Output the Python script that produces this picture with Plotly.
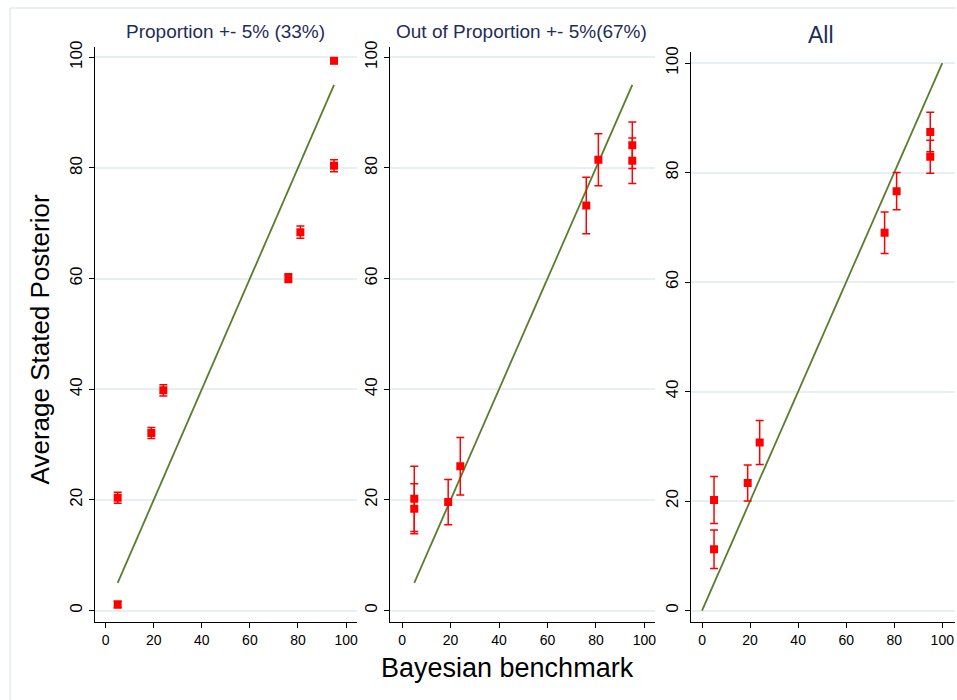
"""
Stated posteriors vs Bayesian benchmark
Three panels with mean +- CI and a 45 degree reference line
"""

import plotly.graph_objects as go

# Bayesian benchmark (x) shared by all panels
bench = [5, 5, 19, 24, 76, 81, 95, 95]

# Proportion +- 5% (33%)
prop_mean = [20.4, 1.1, 32.1, 39.8, 60.1, 68.4, 99.4, 80.4]
prop_err = [1.0, 0.6, 1.0, 1.0, 0.8, 1.1, 0.5, 1.1]

# Out of Proportion +- 5% (67%)
out_mean = [20.2, 18.4, 19.6, 26.1, 73.2, 81.5, 84.1, 81.3]
out_err = [5.9, 4.5, 4.1, 5.2, 5.1, 4.7, 4.2, 4.1]

# All
all_mean = [20.2, 11.2, 23.3, 30.7, 69.0, 76.6, 87.4, 82.9]
all_err = [4.3, 3.5, 3.3, 4.0, 3.8, 3.4, 3.6, 3.0]

# 45 degree reference lines
line_short = [5, 95]
line_full = [0, 100]

titles = ["Proportion +- 5% (33%)", "Out of Proportion +- 5%(67%)", "All"]
tick_vals = [0, 20, 40, 60, 80, 100]

W, H = 957, 700
RED = "#ff0000"
GREEN = "#5b7b2e"
NAVY = "#1f2d5a"
GRID = "#e8eff2"
FONT = "Liberation Sans, Arial, sans-serif"


def px_x(p):
    return p / W


def px_y(p):
    # screenshot comes out ~8px lower / slightly squeezed at the top; compensate
    p = (p - 8) * H / (H - 8)
    return (H - p) / H


panels = [
    dict(mean=prop_mean, err=prop_err, line=line_short,
         xdom=(94.7, 357), ydom=(622, 48.3), xr=[-4.6, 104.4], yr=[-2.05, 101.8]),
    dict(mean=out_mean, err=out_err, line=line_short,
         xdom=(390.7, 656), ydom=(622, 48.3), xr=[-4.9, 104.5], yr=[-2.05, 101.8]),
    dict(mean=all_mean, err=all_err, line=line_full,
         xdom=(691.7, 956), ydom=(622, 52.7), xr=[-4.6, 105.3], yr=[-2.07, 102.07]),
]

fig = go.Figure()
layout = {}

for i, p in enumerate(panels, start=1):
    xa = "x" if i == 1 else f"x{i}"
    ya = "y" if i == 1 else f"y{i}"

    fig.add_trace(go.Scatter(
        x=p["line"], y=p["line"], mode="lines",
        line=dict(color=GREEN, width=1.8),
        xaxis=xa, yaxis=ya, showlegend=False, hoverinfo="skip",
    ))
    fig.add_trace(go.Scatter(
        x=bench, y=p["mean"], mode="markers",
        marker=dict(symbol="square", color=RED, size=8),
        error_y=dict(type="data", array=p["err"], visible=True,
                     color=RED, thickness=1.5, width=4),
        xaxis=xa, yaxis=ya, showlegend=False,
    ))

    key = "" if i == 1 else str(i)
    layout[f"xaxis{key}"] = dict(
        domain=[px_x(p["xdom"][0]), px_x(p["xdom"][1])],
        range=p["xr"], anchor=ya,
        tickvals=tick_vals, ticks="outside", ticklen=5, tickcolor="black",
        showline=True, linecolor="black", linewidth=1,
        showgrid=False, zeroline=False,
        tickfont=dict(family=FONT, size=14, color="black"),
    )
    layout[f"yaxis{key}"] = dict(
        domain=[px_y(p["ydom"][0]), px_y(p["ydom"][1])],
        range=p["yr"], anchor=xa,
        tickvals=tick_vals, ticks="outside", ticklen=5, tickcolor="black",
        tickangle=-90,
        showline=True, linecolor="black", linewidth=1,
        showgrid=True, gridcolor=GRID, gridwidth=1.5, zeroline=False,
        tickfont=dict(family=FONT, size=17, color="black"),
    )

fig.update_layout(**layout)

annotations = [
    dict(text=titles[0], x=px_x(226), y=px_y(32), font=dict(size=19, color=NAVY)),
    dict(text=titles[1], x=px_x(522), y=px_y(32), font=dict(size=19, color=NAVY)),
    dict(text=titles[2], x=px_x(822), y=px_y(36), font=dict(size=23, color=NAVY)),
    dict(text="Bayesian benchmark", x=px_x(508), y=px_y(668),
         font=dict(size=27, color="black")),
    dict(text="Average Stated Posterior", x=px_x(41), y=px_y(340), textangle=-90,
         font=dict(size=26, color="black")),
]
for a in annotations:
    a.update(xref="paper", yref="paper", showarrow=False,
             xanchor="center", yanchor="middle")
    a["font"]["family"] = FONT

# light outer frame, as in the exported graph window
shapes = [
    dict(type="line", xref="paper", yref="paper",
         x0=px_x(10), x1=px_x(10), y0=px_y(9), y1=0,
         line=dict(color="#e3eaee", width=1.5)),
    dict(type="line", xref="paper", yref="paper",
         x0=px_x(10), x1=1, y0=px_y(9), y1=px_y(9),
         line=dict(color="#e3eaee", width=1.5)),
]

fig.update_layout(
    width=W, height=H,
    margin=dict(l=0, r=0, t=0, b=0),
    paper_bgcolor="white", plot_bgcolor="white",
    annotations=annotations, shapes=shapes,
    font=dict(family=FONT),
)

# pin the graph div to the window origin so the page is exactly the figure size
page_css = (
    "var s=document.createElement('style');"
    "s.textContent='html,body{margin:0;padding:0;overflow:hidden;height:700px;}"
    ".plotly-graph-div{position:absolute;top:0;left:0;}';"
    "document.head.appendChild(s);"
)

fig.write_html("out.html", config={"displayModeBar": False}, post_script=page_css)
